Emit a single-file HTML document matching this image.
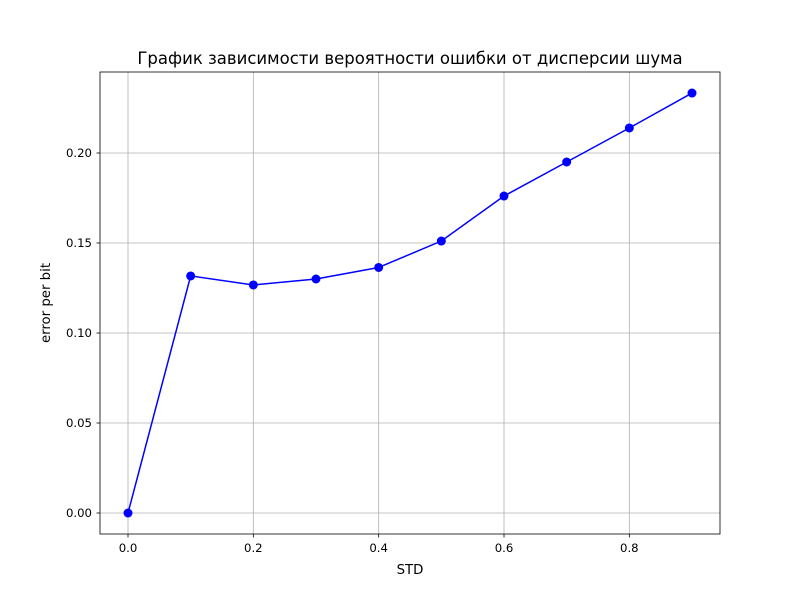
<!DOCTYPE html>
<html><head><meta charset="utf-8"><style>
body{margin:0;background:#fff}
svg text{font-family:"DejaVu Sans","Liberation Sans",sans-serif;fill:#000}
</style></head><body>
<svg id="chart" width="800" height="600" xmlns="http://www.w3.org/2000/svg">
<rect width="800" height="600" fill="#fff"/>
<g id="grid"></g>
<g id="ticks"></g>
<polyline id="line" fill="none" stroke="#0000ff" stroke-width="1.5"/>
<g id="pts"></g>
<rect x="100" y="72" width="620" height="462" fill="none" stroke="#000" stroke-width="0.8"/>
<text x="410" y="64" font-size="16.5" text-anchor="middle">График зависимости вероятности ошибки от дисперсии шума</text>
<text x="410" y="574" font-size="13.3" text-anchor="middle">STD</text>
<text transform="translate(50,303) rotate(-90)" font-size="13.3" text-anchor="middle">error per bit</text>
</svg>
<script>
const xValues=[0,0.1,0.2,0.3,0.4,0.5,0.6,0.7,0.8,0.9];
const yValues=[0,0.1317,0.1267,0.130,0.1364,0.1511,0.1761,0.195,0.2139,0.2333];
const xTicks=[0,0.2,0.4,0.6,0.8];
const xTickLabels=["0.0","0.2","0.4","0.6","0.8"];
const yTicks=[0,0.05,0.1,0.15,0.2];
const yTickLabels=["0.00","0.05","0.10","0.15","0.20"];
const X=v=>128+v*626.67, Y=v=>513-v*1800;
const NS="http://www.w3.org/2000/svg";
function mk(t,a,p){const e=document.createElementNS(NS,t);for(const k in a)e.setAttribute(k,a[k]);p.appendChild(e);return e;}
const g=document.getElementById('grid'),tk=document.getElementById('ticks');
xTicks.forEach((v,i)=>{const x=X(v);
 const l=mk('line',{x1:x,x2:x,y1:72,y2:534,stroke:'#b0b0b0','stroke-width':0.8},g);
 
 
 mk('line',{x1:x,x2:x,y1:534,y2:537.5,stroke:'#000','stroke-width':0.8},tk);
 const t=mk('text',{x:x,y:552,'font-size':11.7,'text-anchor':'middle'},tk);t.textContent=xTickLabels[i];
 
 });
yTicks.forEach((v,i)=>{const y=Y(v);
 const l=mk('line',{x1:100,x2:720,y1:y,y2:y,stroke:'#b0b0b0','stroke-width':0.8},g);
 
 
 mk('line',{x1:96.5,x2:100,y1:y,y2:y,stroke:'#000','stroke-width':0.8},tk);
 const t=mk('text',{x:92,y:y+4,'font-size':11.7,'text-anchor':'end'},tk);t.textContent=yTickLabels[i];
 
 });
document.getElementById('line').setAttribute('points',xValues.map((v,i)=>X(v)+','+Y(yValues[i])).join(' '));
const p=document.getElementById('pts');
xValues.forEach((v,i)=>{const c=mk('circle',{cx:X(v),cy:Y(yValues[i]),r:4.5,fill:'#0000ff'},p);
 
 });
</script>
</body></html>
